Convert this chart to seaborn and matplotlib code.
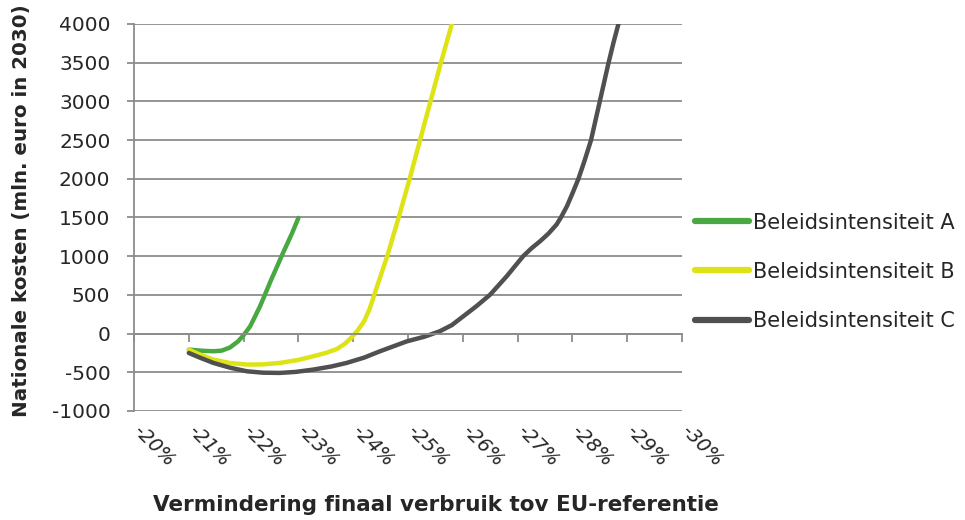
import numpy as np
import pandas as pd
import seaborn as sns
import matplotlib.pyplot as plt
import matplotlib.transforms as mtransforms

# reduction (%) vs national costs (mln euro in 2030)
a_x = [21.0, 21.25, 21.45, 21.6, 21.75, 21.9, 22.0, 22.12, 22.3, 22.5, 22.72, 22.88, 23.0]
a_y = [-207, -222, -228, -220, -180, -100, -20, 94, 353, 690, 1043, 1290, 1495]

b_x = [21.0, 21.2, 21.45, 21.75, 22.06, 22.35, 22.66, 23.0, 23.27, 23.5, 23.7, 23.85,
       23.97, 24.08, 24.2, 24.3, 24.45, 24.62, 24.83, 25.03, 25.22, 25.41, 25.6, 25.8]
b_y = [-207, -270, -336, -380, -400, -398, -379, -340, -293, -250, -200, -130,
       -50, 40, 160, 320, 640, 999, 1500, 2000, 2500, 3000, 3500, 4000]

c_x = [21.0, 21.2, 21.45, 21.75, 22.06, 22.35, 22.66, 22.95, 23.27, 23.6, 23.88, 24.2,
       24.49, 24.75, 24.98, 25.3, 25.58, 25.8, 26.01, 26.25, 26.5, 26.8, 27.1, 27.25,
       27.41, 27.56, 27.71, 27.79, 27.9, 28.0, 28.11, 28.22, 28.34, 28.42, 28.5, 28.58,
       28.66, 28.75, 28.84]
c_y = [-250, -310, -379, -440, -487, -505, -508, -495, -465, -425, -379, -310,
       -228, -160, -100, -40, 30, 110, 224, 355, 504, 740, 999, 1100,
       1193, 1290, 1408, 1500, 1645, 1810, 2000, 2230, 2500, 2750, 3000, 3250,
       3500, 3760, 4000]

series = ["Beleidsintensiteit A", "Beleidsintensiteit B", "Beleidsintensiteit C"]
colors = ["#4aa842", "#dde314", "#505050"]
xticks = list(range(20, 31))
xlabels = ["-%d%%" % v for v in xticks]
yticks = list(range(-1000, 4001, 500))

df = pd.concat([
    pd.DataFrame({"x": a_x, "y": a_y, "serie": series[0]}),
    pd.DataFrame({"x": b_x, "y": b_y, "serie": series[1]}),
    pd.DataFrame({"x": c_x, "y": c_y, "serie": series[2]}),
])

sns.set_style("white")
plt.rcParams["font.family"] = ["DejaVu Sans"]

fig = plt.figure(figsize=(9.65, 5.2), dpi=100)
ax = fig.add_axes([134 / 965, 1 - 411 / 520, 548 / 965, 387 / 520])

sns.lineplot(data=df, x="x", y="y", hue="serie", palette=colors, estimator=None,
             sort=False, linewidth=3.2, ax=ax, legend=True)
for ln in ax.lines:
    ln.set_solid_capstyle("round")
    ln.set_solid_joinstyle("round")

ax.set_xlim(20, 30)
ax.set_ylim(-1000, 4000)
ax.set_yticks(yticks)
ax.set_yticklabels([str(v) for v in yticks], fontsize=14.5)
ax.yaxis.grid(True, color="#8c8c8c", linewidth=1.3)
ax.set_axisbelow(True)

ax.spines["top"].set_visible(False)
ax.spines["right"].set_visible(False)
ax.spines["left"].set_color("#8c8c8c")
ax.spines["left"].set_linewidth(1.3)
ax.spines["bottom"].set_position(("data", 0))
ax.spines["bottom"].set_color("#8c8c8c")
ax.spines["bottom"].set_linewidth(1.3)

ax.set_xticks(xticks)
ax.set_xticklabels(xlabels, fontsize=14, rotation=-45, ha="left",
                   va="center", rotation_mode="anchor")
ax.tick_params(axis="x", bottom=True, direction="out", length=6, width=1.3,
               color="#8c8c8c", pad=62)
ax.tick_params(axis="y", left=True, direction="out", length=5, width=1.3,
               color="#8c8c8c", pad=12)
shift = mtransforms.ScaledTranslation(2 / 100, 0, fig.dpi_scale_trans)
for t in ax.get_xticklabels():
    t.set_fontstyle("italic")
    t.set_transform(t.get_transform() + shift)

ax.set_xlabel("")
ax.set_ylabel("")
fig.text(22 / 965, 1 - 211 / 520, "Nationale kosten (mln. euro in 2030)", rotation=90,
         ha="center", va="center", fontsize=14.3, fontweight="bold")
fig.text(436 / 965, 1 - 505 / 520, "Vermindering finaal verbruik tov EU-referentie",
         ha="center", va="center", fontsize=15.5, fontweight="bold")

leg = ax.legend(loc="center left", bbox_to_anchor=(0.99, 0.36), frameon=False,
                fontsize=15, handlelength=2.6, handletextpad=0.15, labelspacing=1.4)
for h in leg.get_lines():
    h.set_linewidth(4.5)

fig.savefig("out.png", dpi=100)
